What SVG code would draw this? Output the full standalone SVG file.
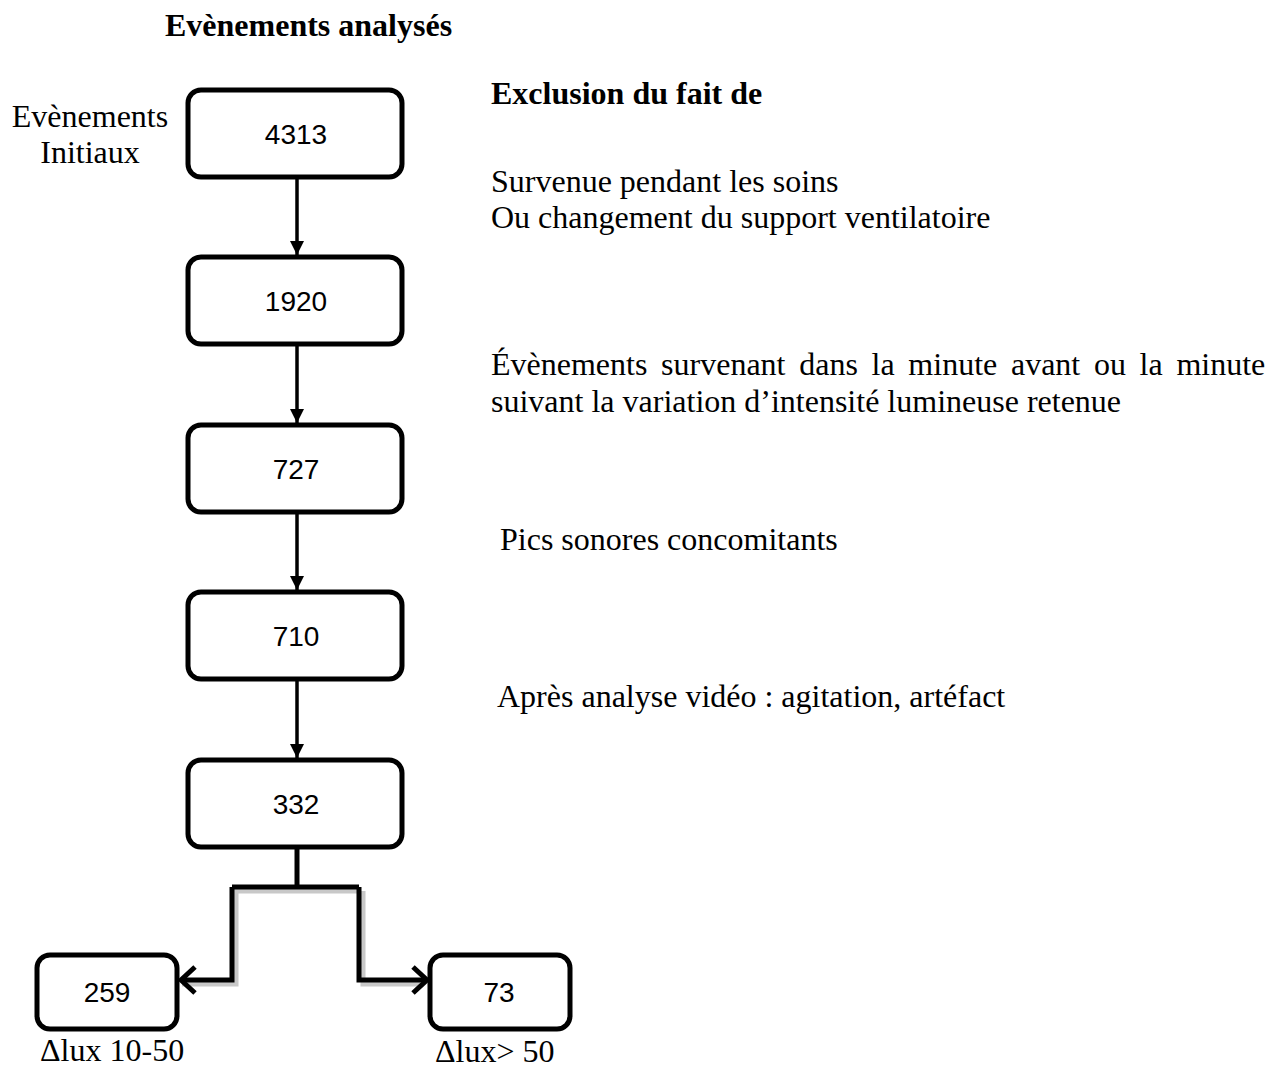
<svg xmlns="http://www.w3.org/2000/svg" width="1282" height="1068" viewBox="0 0 1282 1068">
<style>
.box{fill:#fff;stroke:#000;stroke-width:5}
.num{font-family:"Liberation Sans",Arial,sans-serif;font-size:28px;fill:#000;text-anchor:middle}
.t{font-family:"Liberation Serif","Times New Roman",serif;font-size:32px;fill:#000}
.b{font-weight:bold}
.ln{fill:none;stroke:#000;stroke-width:3.5}
.br{fill:none;stroke:#000;stroke-width:5;stroke-linejoin:miter}
.sh{fill:none;stroke:#c8c8c8;stroke-width:5}
</style>
<defs>
<marker id="tri" viewBox="0 0 14 14" refX="14" refY="7" markerWidth="14" markerHeight="14" markerUnits="userSpaceOnUse" orient="auto">
<path d="M0,0 L14,7 L0,14 Z" fill="#000"/>
</marker>
</defs>
<rect width="1282" height="1068" fill="#fff"/>
<text class="t b" x="165" y="36">Evènements analysés</text>
<text class="t b" x="491" y="104">Exclusion du fait de</text>
<g id="label-initiaux">
<text class="t" x="90" y="127" text-anchor="middle">Evènements</text>
<text class="t" x="90" y="163" text-anchor="middle">Initiaux</text>
</g>
<g id="excl-1">
<text class="t" x="491" y="192">Survenue pendant les soins</text>
<text class="t" x="491" y="228">Ou changement du support ventilatoire</text>
</g>
<g id="excl-2">
<text class="t" x="491" y="375" word-spacing="5.7">Évènements survenant dans la minute avant ou la minute</text>
<text class="t" x="491" y="412">suivant la variation d’intensité lumineuse retenue</text>
</g>
<g id="excl-3"><text class="t" x="500" y="550">Pics sonores concomitants</text></g>
<g id="excl-4"><text class="t" x="497" y="707">Après analyse vidéo : agitation, artéfact</text></g>

<g id="connectors">
<line class="ln" x1="297" y1="177" x2="297" y2="255" marker-end="url(#tri)"/>
<line class="ln" x1="297" y1="345" x2="297" y2="423" marker-end="url(#tri)"/>
<line class="ln" x1="297" y1="512" x2="297" y2="590" marker-end="url(#tri)"/>
<line class="ln" x1="297" y1="680" x2="297" y2="758" marker-end="url(#tri)"/>
<path class="sh" d="M234,891 L361,891 M236,891 L236,984 L182,984 M363,891 L363,984 L424,984"/>
<path class="br" d="M297,847 L297,887"/>
<path class="br" d="M232,887 L359,887 M232,887 L232,980 L182,980 M359,887 L359,980 L426,980"/>
<path class="br" d="M195,967 L181,980 L195,993"/>
<path class="br" d="M413,967 L427,980 L413,993"/>
</g>

<g id="n4313"><rect class="box" x="188" y="90" width="214" height="87" rx="13"/><text class="num" x="296" y="144">4313</text></g>
<g id="n1920"><rect class="box" x="188" y="257" width="214" height="87" rx="13"/><text class="num" x="296" y="311">1920</text></g>
<g id="n727"><rect class="box" x="188" y="425" width="214" height="87" rx="13"/><text class="num" x="296" y="479">727</text></g>
<g id="n710"><rect class="box" x="188" y="592" width="214" height="87" rx="13"/><text class="num" x="296" y="646">710</text></g>
<g id="n332"><rect class="box" x="188" y="760" width="214" height="87" rx="13"/><text class="num" x="296" y="814">332</text></g>
<g id="n259"><rect class="box" x="37" y="955" width="140" height="74" rx="13"/><text class="num" x="107" y="1002">259</text><text class="t" x="40" y="1061">Δlux 10-50</text></g>
<g id="n73"><rect class="box" x="430" y="955" width="140" height="74" rx="13"/><text class="num" x="499" y="1002">73</text><text class="t" x="435" y="1062">Δlux&gt; 50</text></g>
</svg>
